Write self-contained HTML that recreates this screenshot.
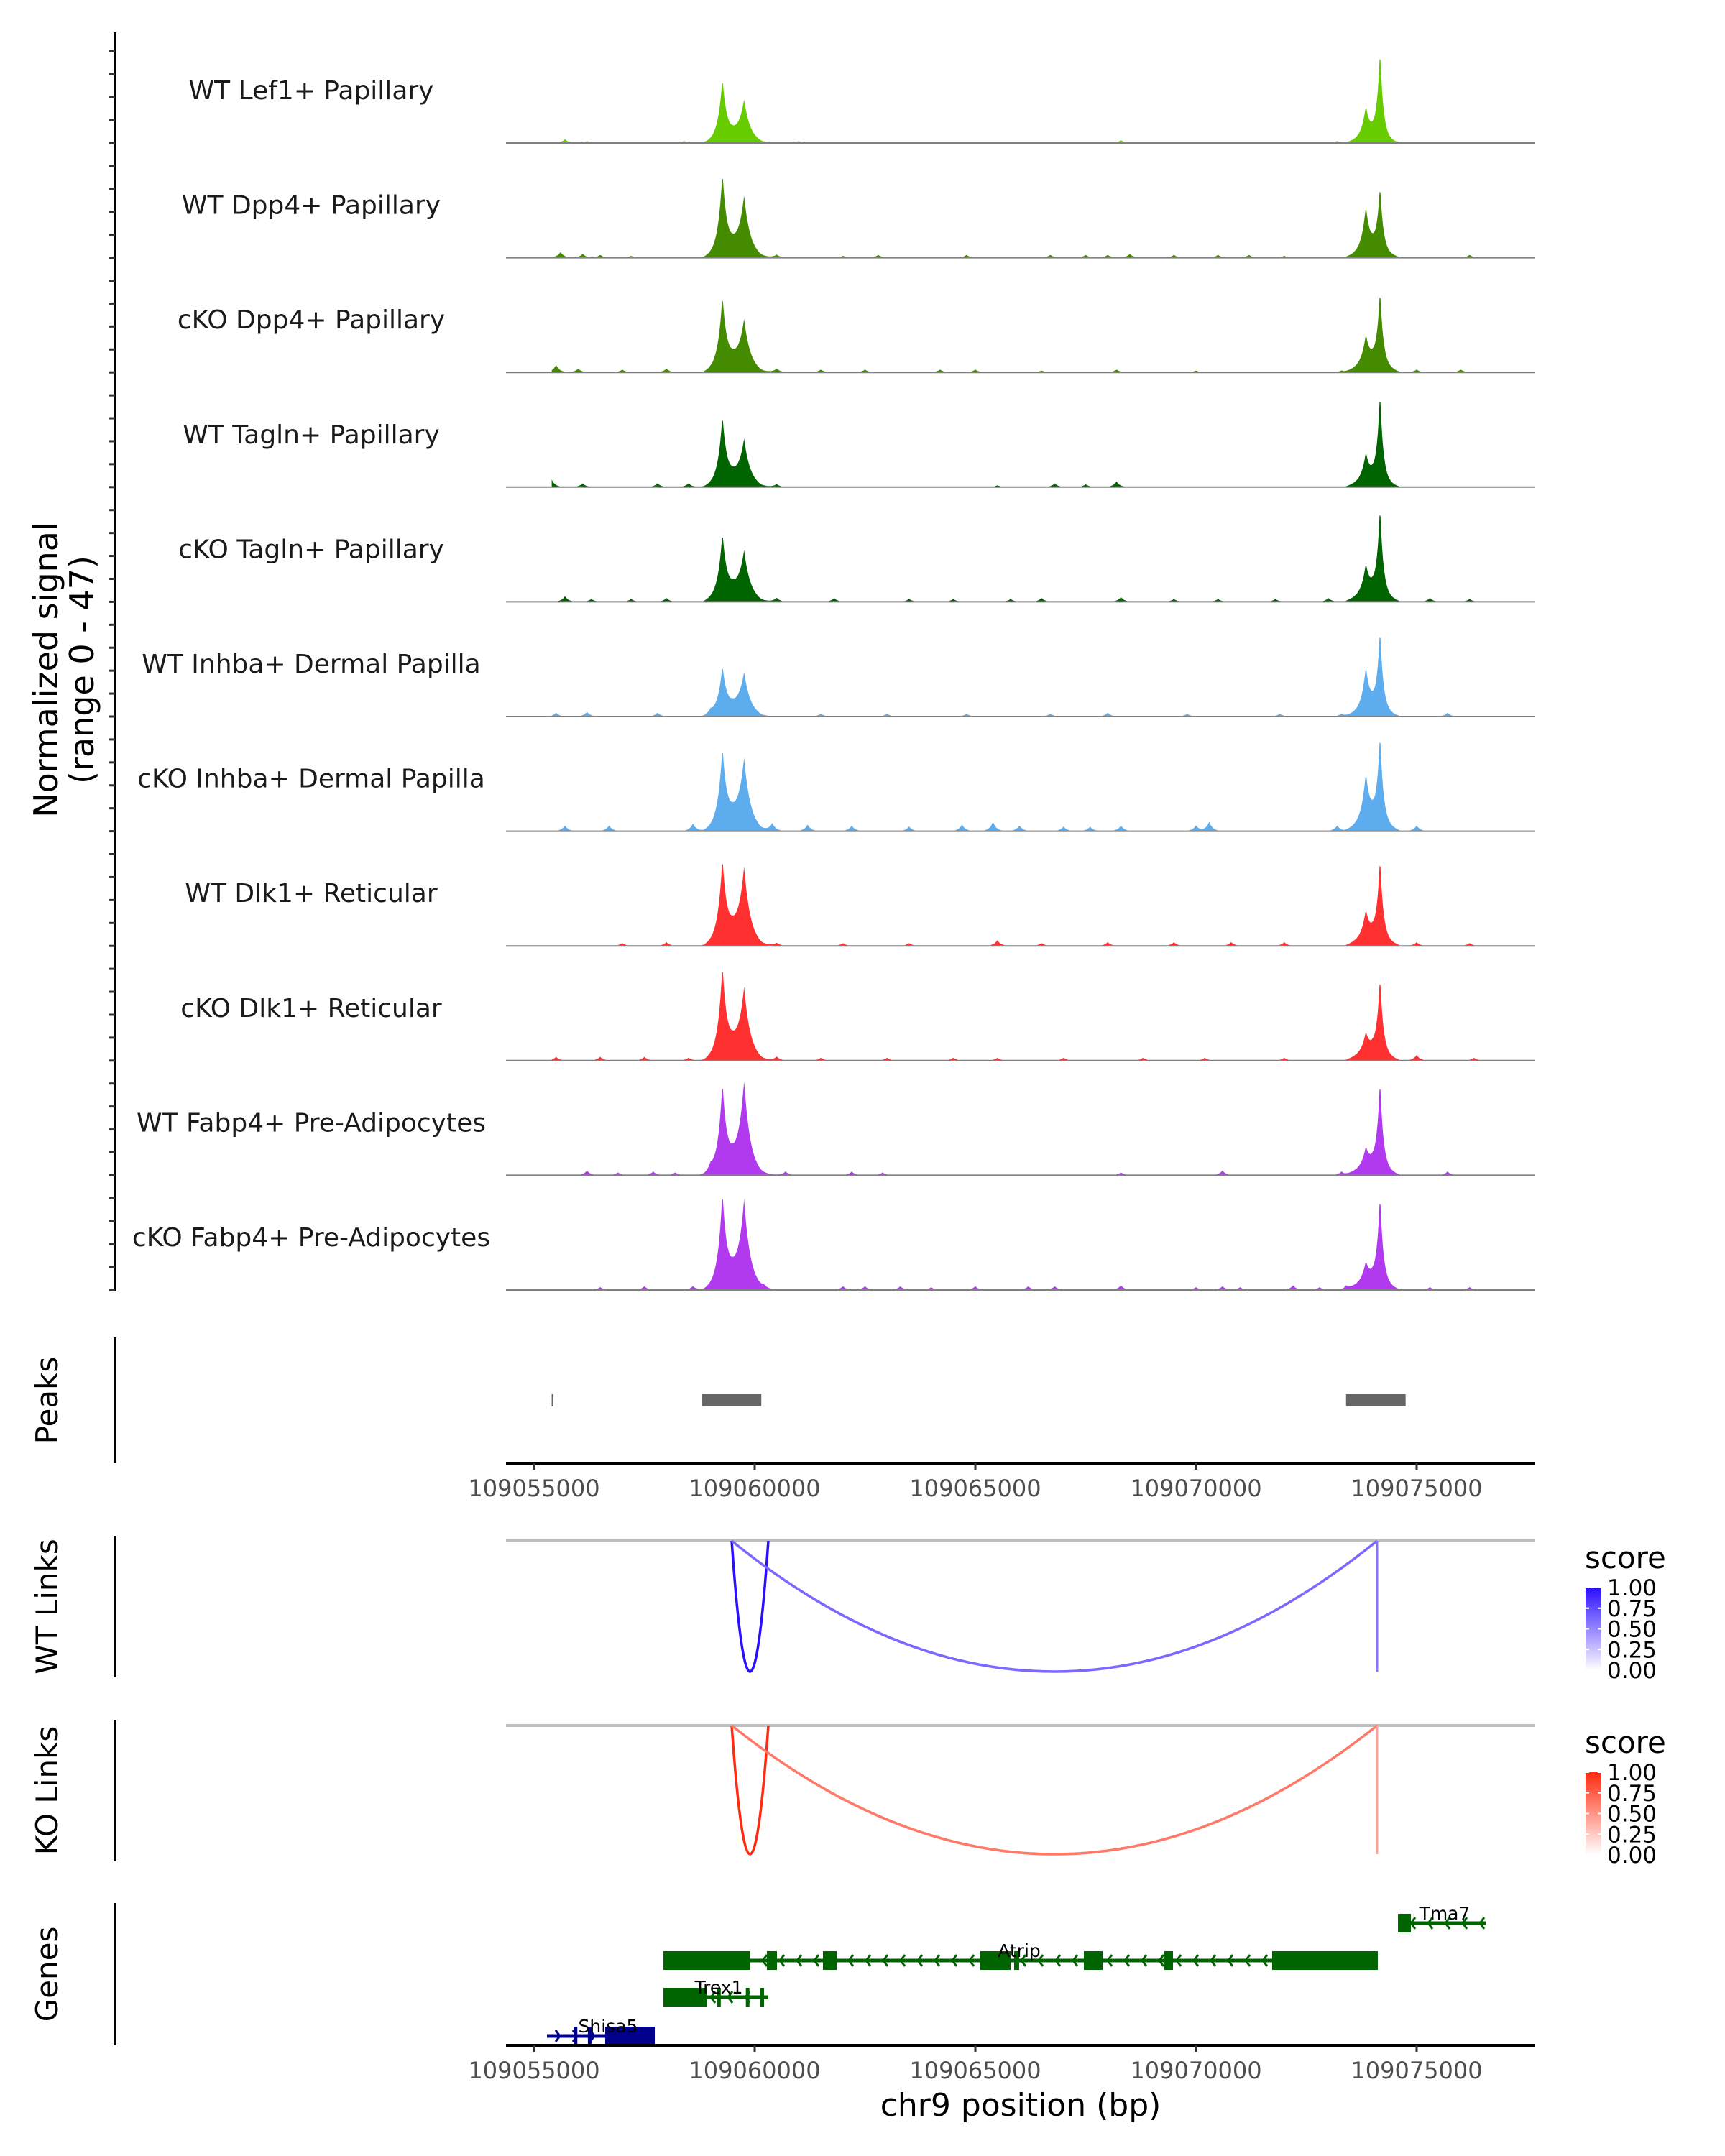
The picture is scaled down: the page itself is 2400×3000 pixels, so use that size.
<!DOCTYPE html>
<html><head><meta charset="utf-8">
<style>
html,body{margin:0;padding:0;background:#fff;}
svg{display:block;font-family:"DejaVu Sans","Liberation Sans",sans-serif;}
</style></head>
<body>
<svg id="chart" xmlns="http://www.w3.org/2000/svg" width="2400" height="3000" viewBox="0 0 2400 3000"></svg>
<script>
// ---- data ----
const trackNames = ["WT Lef1+ Papillary","WT Dpp4+ Papillary","cKO Dpp4+ Papillary","WT Tagln+ Papillary","cKO Tagln+ Papillary","WT Inhba+ Dermal Papilla","cKO Inhba+ Dermal Papilla","WT Dlk1+ Reticular","cKO Dlk1+ Reticular","WT Fabp4+ Pre-Adipocytes","cKO Fabp4+ Pre-Adipocytes"];
const trackColors = ["#66cc00","#458b00","#458b00","#006400","#006400","#5cacee","#5cacee","#ff3030","#ff3030","#b23aee","#b23aee"];
const peakPos = [109059270,109059760,109073850,109074170];
const peakWidth = [100,140,100,75];
const peakHeights = [
 [32,21,17,47],[42,30,24,35],[37,25,16,40],[35,23,15,47],[33,24,16,47],
 [24,21,23,43],[40,35,26,47],[42,38,15,43],[46,35,11,41],[45,47,11,47],[47,44,11,47]];
const basePos = [109059500,109074000];
const baseHeights = [[3,3],[4,4],[5,5],[4,4],[5,5],[4,4],[6,6],[6,5],[6,5],[5,5],[6,5]];
const noisePos = [
 [109055700,109056200,109058400,109061000,109068300,109073200,109075500],
 [109055600,109056100,109056500,109057200,109060500,109062000,109062800,109064800,109066700,109067500,109068000,109068500,109069500,109070500,109071200,109072000,109076200],
 [109055500,109056000,109057000,109058000,109060500,109061500,109062500,109064200,109065000,109066500,109068200,109070000,109073300,109075000,109076000],
 [109055400,109056100,109057800,109058500,109060500,109065500,109066800,109067500,109068200],
 [109055700,109056300,109057200,109058000,109060500,109061800,109063500,109064500,109065800,109066500,109068300,109069500,109070500,109071800,109073000,109075300,109076200],
 [109055500,109056200,109057800,109059000,109061500,109063000,109064800,109066700,109068000,109069800,109071900,109073300,109075700],
 [109055700,109056700,109058600,109060400,109061200,109062200,109063500,109064700,109065400,109066000,109067000,109067600,109068300,109070000,109070300,109073200,109075000],
 [109057000,109058000,109060500,109062000,109063500,109065500,109066500,109068000,109069500,109070800,109072000,109075000,109076200],
 [109055500,109056500,109057500,109058500,109060500,109061500,109063000,109064500,109065500,109067000,109068800,109070200,109072000,109075000,109076300],
 [109056200,109056900,109057700,109058200,109059000,109060700,109062200,109062900,109068300,109070600,109073300,109075700],
 [109056500,109057500,109058600,109060200,109062000,109062500,109063300,109064000,109065000,109066200,109066800,109068300,109070000,109070600,109071000,109072200,109072800,109073400,109075300,109076200]];
const noiseHeights = [
 [2,1,1,1,1.5,1,0.5],
 [3,2,1.5,1,1.5,1,1.5,1.5,1.5,1.5,1.5,2,1.5,1.5,1.5,1,1.5],
 [4,2,1.5,2,2,1.5,1.5,1.5,1.5,1,1.5,1,1,1.5,1.5],
 [4,2,2,2,1.5,1,2,1.5,3],
 [3,1.5,1.5,2,2,2,1.5,1.5,1.5,2,2.5,1.5,1.5,1.5,2,2,1.5],
 [2,2.5,2,2,1.5,1.5,1.5,1.5,2,1.5,1.5,1.5,2],
 [3,3,4,4,3.5,3,2.5,3.5,5,3,2.5,2.5,3,3,5,3,3],
 [1.5,2,1.5,1.5,1.5,3,1.5,2,2,2,2,2,1.5],
 [2,2,2,1.5,2,1.5,1.5,1.5,1.5,1.5,1.5,1.5,1.5,3,1.5],
 [2.5,1.5,2,1.5,3,2,2,1.5,1.5,2.5,2,2],
 [1.5,2,2,1.5,2,2,2,1.5,2,2,2,2.5,1.5,2,1.5,2.5,1.5,2,1.5,1.5]];
const peakRegionStart = [109055400,109058800,109073400];
const peakRegionEnd = [109055420,109060150,109074750];
const xTicks = [109055000,109060000,109065000,109070000,109075000];
const linkStart = [109059479,109059479,109074104];
const linkEnd = [109060309,109074104,109074104];
const wtScore = [1.0,0.6,0.55];
const koScore = [1.0,0.6,0.4];
const legendLabels = ["1.00","0.75","0.50","0.25","0.00"];
const geneNames = ["Tma7","Atrip","Trex1","Shisa5"];
const geneStart = [109074577,109057932,109057932,109055293];
const geneEnd = [109076564,109074120,109060309,109057736];
const geneStrand = [-1,-1,-1,1];
const geneExons = [
 [[109074577,109074870]],
 [[109057932,109059902],[109060277,109060505],[109061547,109061857],[109065114,109065798],[109065879,109065993],[109067459,109067883],[109069283,109069479],[109071726,109074120]],
 [[109057932,109058909],[109059150,109059220],[109059800,109059870],[109060130,109060200]],
 [[109056612,109057736],[109055900,109055960],[109056220,109056290]]];

// ---- helpers ----
const svg = document.getElementById('chart');
const NS = 'http://www.w3.org/2000/svg';
function mk(tag, attrs, parent){
  const e = document.createElementNS(NS, tag);
  for (const k in attrs) e.setAttribute(k, attrs[k]);
  (parent||svg).appendChild(e);
  return e;
}
function txt(s, attrs, parent){ const e = mk('text', attrs, parent); e.textContent = s; return e; }
const X0 = 743, BP0 = 109055000, PXPERBP = 1228/20000;
const xs = bp => X0 + (bp - BP0) * PXPERBP;
const PL = 704, PR = 2136;
const trackBase0 = 199, trackStep = 159.6, trackH = 124, YMAX = 47;

// y axis line & ticks
let ax = mk('line',{x1:160,y1:45,x2:160,y2:trackBase0+10*trackStep+2,stroke:'#000','stroke-width':3});
 
for (let t=0;t<11;t++){
  const b = trackBase0 + t*trackStep;
  for (let k=0;k<5;k++){
    const tk = mk('line',{x1:152,y1:b-k*trackStep/5,x2:160,y2:b-k*trackStep/5,stroke:'#333','stroke-width':3});
     
  }
}
const yt = txt('',{transform:'translate(92,932) rotate(-90)','text-anchor':'middle','font-size':46,fill:'#000'});
 
const ts1 = mk('tspan',{x:0,dy:-12},yt); ts1.textContent='Normalized signal';
const ts2 = mk('tspan',{x:0,dy:50},yt); ts2.textContent='(range 0 - 47)';

// coverage tracks
for (let t=0;t<11;t++){
  const b = trackBase0 + t*trackStep;
  const g = mk('g',{});
   
  const lab = txt(trackNames[t],{x:433,y:b-61,'text-anchor':'middle','font-size':36,fill:'#1a1a1a'},g);
   
  let d = 'M'+xs(109055400).toFixed(1)+','+b;
  for (let bp=109055400; bp<=109076800; bp+=20){
    let v = 0;
    for (let i=0;i<peakPos.length;i++) v += peakHeights[t][i]*Math.exp(-Math.abs(bp-peakPos[i])/peakWidth[i]);
    for (let i=0;i<basePos.length;i++){ const dd=Math.abs(bp-basePos[i]); if(dd<650) v += baseHeights[t][i]*(1-dd/650); }
    for (let i=0;i<noisePos[t].length;i++) v += noiseHeights[t][i]*Math.exp(-Math.abs(bp-noisePos[t][i])/80);
    if (v < 0.4) v = 0;
    v = Math.min(v, YMAX*1.05);
    d += 'L'+xs(bp).toFixed(1)+','+(b - v/YMAX*trackH).toFixed(1);
  }
  d += 'L'+xs(109076800).toFixed(1)+','+b+'Z';
  const area = mk('path',{d:d,fill:trackColors[t],stroke:'none'},g);
   
  const bl = mk('line',{x1:PL,y1:b,x2:PR,y2:b,stroke:'#808080','stroke-width':2},g);
   
}

// side panel titles/axes
function sidePanel(name, label, y1, y2){
  const l = mk('line',{x1:160,y1:y1,x2:160,y2:y2,stroke:'#000','stroke-width':3});
   
  const tt = txt(label,{transform:'translate(80,'+((y1+y2)/2)+') rotate(-90)','text-anchor':'middle','font-size':42,fill:'#000'});
   
}
sidePanel('peaks','Peaks',1861,2036);
sidePanel('wt-links','WT Links',2137,2334);
sidePanel('ko-links','KO Links',2393,2590);
sidePanel('genes','Genes',2648,2846);

// peaks
for (let i=0;i<peakRegionStart.length;i++){
  const x1 = xs(peakRegionStart[i]), x2 = xs(peakRegionEnd[i]);
  const r = mk('rect',{x:x1,y:1940,width:Math.max(2,x2-x1),height:17,fill:'#666'});
   
}
function xAxis(y, name){
  const l = mk('line',{x1:PL,y1:y,x2:PR,y2:y,stroke:'#000','stroke-width':4});
   
  for (const t of xTicks){
    const tk = mk('line',{x1:xs(t),y1:y,x2:xs(t),y2:y+9,stroke:'#333','stroke-width':3});
     
    const tl = txt(String(t),{x:xs(t),y:y+46,'text-anchor':'middle','font-size':32,fill:'#4d4d4d'});
     
  }
}
xAxis(2036,'peaks');

// links
function mixColor(c0,c1,s){
  const p = c => [parseInt(c.slice(1,3),16),parseInt(c.slice(3,5),16),parseInt(c.slice(5,7),16)];
  const a=p(c0), b=p(c1);
  return 'rgb('+a.map((v,i)=>Math.round(v+(b[i]-v)*s)).join(',')+')';
}
function linksPanel(name, top, bottom, scores, hi, lo){
  const gl = mk('line',{x1:PL,y1:top,x2:PR,y2:top,stroke:'#bebebe','stroke-width':4});
   
  for (let i=0;i<linkStart.length;i++){
    const a = xs(linkStart[i]), b = xs(linkEnd[i]);
    const col = mixColor(lo, hi, scores[i]);
    let el;
    if (Math.abs(b-a) < 1){
      el = mk('line',{x1:a,y1:top,x2:a,y2:bottom,stroke:col,'stroke-width':3});
    } else {
      const cy = 2*bottom - top;
      el = mk('path',{d:'M'+a+','+top+' Q'+((a+b)/2)+','+cy+' '+b+','+top,fill:'none',stroke:col,'stroke-width':3.5});
    }
     
  }
  const lt = txt('score',{x:2205,y:top+38,'font-size':42,fill:'#000'});
   
  const gid = 'grad-'+name;
  const defs = mk('defs',{});
  const lg = mk('linearGradient',{id:gid,x1:0,y1:0,x2:0,y2:1},defs);
  mk('stop',{offset:0,'stop-color':hi},lg);
  mk('stop',{offset:1,'stop-color':'#ffffff'},lg);
  const by = top+65, bh = 115;
  const bar = mk('rect',{x:2206,y:by,width:22,height:bh,fill:'url(#'+gid+')'});
   
  for (let i=0;i<legendLabels.length;i++){
    const yy = by + i*bh/4;
    const ll = txt(legendLabels[i],{x:2236,y:yy+11,'font-size':31,fill:'#000'});
     
    mk('line',{x1:2206,y1:yy,x2:2211,y2:yy,stroke:'#fff','stroke-width':2});
    mk('line',{x1:2223,y1:yy,x2:2228,y2:yy,stroke:'#fff','stroke-width':2});
  }
}
linksPanel('wt-links',2144,2326,wtScore,'#2a0eff','#f2eeff');
linksPanel('ko-links',2401,2580,koScore,'#ff2a10','#fff0ec');

// genes
const geneRowY = [2676,2728,2779,2833];
for (let g=0; g<geneNames.length; g++){
  const y = geneRowY[g];
  const col = g===3 ? '#00008b' : '#006400';
  const gg = mk('g',{});
   
  const x1 = xs(geneStart[g]), x2 = xs(geneEnd[g]);
  mk('line',{x1:x1,y1:y,x2:x2,y2:y,stroke:col,'stroke-width':5},gg);
  for (let cx = x1+18; cx < x2-8; cx += 24){
    const s = -geneStrand[g];
    mk('polyline',{points:(cx+6*s)+','+(y-8)+' '+cx+','+y+' '+(cx+6*s)+','+(y+8),fill:'none',stroke:col,'stroke-width':3},gg);
  }
  for (const ex of geneExons[g]){
    const e = mk('rect',{x:xs(ex[0]),y:y-13,width:Math.max(5,xs(ex[1])-xs(ex[0])),height:26,fill:col},gg);
     
  }
  const lx = g===1 ? 1418 : g===0 ? 2010 : g===2 ? 1000 : 846;
  const gl = txt(geneNames[g],{x:lx,y:y-5,'text-anchor':'middle','font-size':25,fill:'#000'},gg);
   
}
xAxis(2846,'genes');
const xt = txt('chr9 position (bp)',{x:1420,y:2944,'text-anchor':'middle','font-size':44,fill:'#000'});
 
</script>
</body></html>
